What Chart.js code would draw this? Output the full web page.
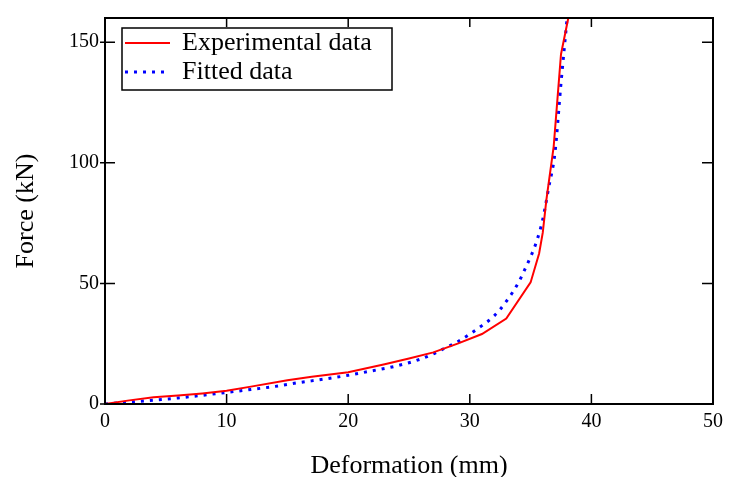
<!DOCTYPE html>
<html>
<head>
<meta charset="utf-8">
<script src="https://cdn.jsdelivr.net/npm/chart.js@4.4.1/dist/chart.umd.min.js"></script>
<style>
  html, body { margin: 0; padding: 0; background: #fff; }
  #wrap { width: 730px; height: 477px; position: relative; }
</style>
</head>
<body>
<div id="wrap"><canvas id="chart"></canvas></div>
<script>
// Force vs. deformation: measured curve against the fitted model.

const expDeformation = [0, 2, 4, 6, 8, 10, 12, 15, 17, 20, 23, 25, 27, 29, 31, 33, 35, 35.7, 36.0, 36.3, 36.9, 37.5, 38.1, 38.3];
const expForce       = [0, 1.5, 2.8, 3.5, 4.4, 5.5, 7.2, 9.8, 11.3, 13.2, 16.5, 18.9, 21.4, 25.0, 29.0, 35.4, 50.4, 62.4, 71.0, 84.7, 106.8, 145, 160, 166];

const fitDeformation = [0, 2, 4, 6, 8, 10, 12, 14, 16, 18, 20, 22, 24, 26, 27, 28, 29, 30, 31, 32, 33, 34, 34.5, 35, 35.5, 36, 36.5, 37, 37.5, 38, 38.2];
const fitForce       = [0, 0.8, 1.6, 2.5, 3.6, 4.8, 6.0, 7.3, 8.9, 10.3, 11.9, 13.8, 15.8, 18.7, 20.8, 23.3, 25.8, 29.0, 32.5, 36.5, 42.5, 50.3, 55.5, 61.0, 67.5, 76.5, 90, 104, 133, 160, 172];

const xTicks = [0, 10, 20, 30, 40, 50];
const yTicks = [0, 50, 100, 150];
const seriesLabels = ['Experimental data', 'Fitted data'];
const xTitle = 'Deformation (mm)';
const yTitle = 'Force (kN)';

const SERIF = "'Liberation Serif', 'Times New Roman', serif";

function toPoints(xs, ys) {
  return xs.map((x, i) => ({ x, y: ys[i] }));
}

// plot frame with inward tick marks on all four sides
const framePlugin = {
  id: 'frame',
  afterDatasetsDraw(chart) {
    const { ctx, chartArea: a, scales: { x, y } } = chart;
    ctx.save();
    ctx.strokeStyle = '#000';
    ctx.lineWidth = 2;
    ctx.strokeRect(a.left, a.top, a.right - a.left, a.bottom - a.top);
    ctx.lineWidth = 1.5;
    ctx.beginPath();
    x.ticks.forEach(t => {
      const px = x.getPixelForValue(t.value);
      ctx.moveTo(px, a.bottom); ctx.lineTo(px, a.bottom - 10);
      ctx.moveTo(px, a.top); ctx.lineTo(px, a.top + 9);
    });
    y.ticks.forEach(t => {
      const py = y.getPixelForValue(t.value);
      ctx.moveTo(a.left - 5, py); ctx.lineTo(a.left + 10, py);
      ctx.moveTo(a.right, py); ctx.lineTo(a.right - 11, py);
    });
    ctx.stroke();
    ctx.restore();
  }
};

// boxed legend in the top-left corner of the plot
const boxLegend = {
  id: 'boxLegend',
  afterDraw(chart) {
    const { ctx } = chart;
    const box = { left: 122, top: 28, width: 270, height: 62 };
    ctx.save();
    ctx.fillStyle = '#fff';
    ctx.fillRect(box.left, box.top, box.width, box.height);
    ctx.strokeStyle = '#000';
    ctx.lineWidth = 1.5;
    ctx.strokeRect(box.left, box.top, box.width, box.height);
    ctx.font = `26px ${SERIF}`;
    ctx.textBaseline = 'middle';
    chart.data.datasets.forEach((ds, i) => {
      const rowY = box.top + 15 + i * 29;
      ctx.strokeStyle = ds.borderColor;
      ctx.lineWidth = ds.borderWidth;
      ctx.setLineDash(ds.borderDash || []);
      ctx.beginPath();
      ctx.moveTo(box.left + 3, rowY);
      ctx.lineTo(box.left + 48, rowY);
      ctx.stroke();
      ctx.setLineDash([]);
      ctx.fillStyle = '#000';
      ctx.fillText(ds.label, box.left + 60, rowY);
    });
    ctx.restore();
  }
};

new Chart(document.getElementById('chart'), {
  type: 'scatter',
  data: {
    datasets: [
      {
        label: seriesLabels[0],
        data: toPoints(expDeformation, expForce),
        showLine: true,
        borderColor: '#ff0000',
        borderWidth: 2,
        pointRadius: 0,
        tension: 0,
      },
      {
        label: seriesLabels[1],
        data: toPoints(fitDeformation, fitForce),
        showLine: true,
        borderColor: '#0000ff',
        borderWidth: 3,
        borderDash: [3, 6],
        pointRadius: 0,
        cubicInterpolationMode: 'monotone',
      },
    ],
  },
  options: {
    responsive: true,
    maintainAspectRatio: false,
    animation: false,
    layout: { padding: { top: 14, right: 17, bottom: 0, left: 0 } },
    plugins: { legend: { display: false }, tooltip: { enabled: false } },
    scales: {
      x: {
        type: 'linear',
        min: 0,
        max: 50,
        afterBuildTicks: s => { s.ticks = xTicks.map(v => ({ value: v })); },
        afterFit: s => { s.height = 73; },
        grid: { display: false, drawTicks: false },
        border: { display: false },
        ticks: { color: '#000', font: { family: SERIF, size: 20 }, padding: 6, maxRotation: 0 },
        title: {
          display: true,
          text: xTitle,
          color: '#000',
          font: { family: SERIF, size: 26, lineHeight: 0.8 },
          padding: { top: 0, bottom: 0 },
        },
      },
      y: {
        type: 'linear',
        min: 0,
        max: 160,
        afterBuildTicks: s => { s.ticks = yTicks.map(v => ({ value: v })); },
        afterFit: s => { s.width = 105; },
        grid: { display: false, drawTicks: false },
        border: { display: false },
        ticks: { color: '#000', font: { family: SERIF, size: 20 }, padding: 6 },
        title: {
          display: true,
          text: yTitle,
          color: '#000',
          font: { family: SERIF, size: 26, lineHeight: 1 },
          padding: { top: 13, bottom: 0 },
        },
      },
    },
  },
  plugins: [framePlugin, boxLegend],
});
</script>
</body>
</html>
